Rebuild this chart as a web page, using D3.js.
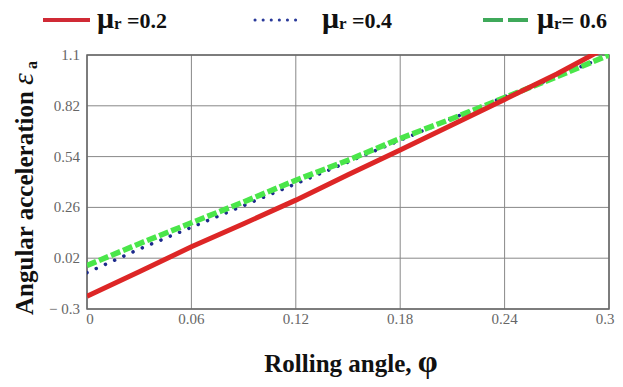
<!DOCTYPE html>
<html lang="en">
<head>
  <meta charset="UTF-8" />
  <title>Angular acceleration vs rolling angle</title>
  <script src="https://d3js.org/d3.v7.min.js"></script>
  <style>
    body { margin: 0; background: #fff; }
    svg { display: block; font-family: 'Liberation Serif', 'DejaVu Serif', serif; }
    .tick-label { font-size: 15px; fill: #666; }
    .axis-title { font-size: 25px; font-weight: bold; fill: #111; }
    .legend-text { font-weight: bold; fill: #111; }
  </style>
</head>
<body>
  <svg id="chart"></svg>
  <script>
    // values
    const phi = [0, 0.03, 0.06, 0.09, 0.12, 0.15, 0.18, 0.21, 0.24, 0.27, 0.3];
    const epsMu02 = [-0.23, -0.095, 0.043, 0.17, 0.30, 0.44, 0.577, 0.715, 0.855, 0.995, 1.15];
    const epsMu04 = [-0.10, 0.03, 0.15, 0.27, 0.39, 0.51, 0.63, 0.75, 0.87, 0.98, 1.10];
    const epsMu06 = [-0.06, 0.06, 0.175, 0.29, 0.41, 0.52, 0.64, 0.75, 0.865, 0.98, 1.10];
    const xTicks = [0, 0.06, 0.12, 0.18, 0.24, 0.3];
    const xTickLabels = ["0", "0.06", "0.12", "0.18", "0.24", "0.3"];
    const yTicks = [-0.3, -0.02, 0.26, 0.54, 0.82, 1.1];
    const yTickLabels = ["\u2212 0.3", "0.02", "0.26", "0.54", "0.82", "1.1"];
    const legendLabels = [" =0.2", " =0.4", "= 0.6"];

    const width = 623, height = 387;
    const plotLeft = 87, plotRight = 609, plotTop = 55, plotBottom = 309;

    const svg = d3.select('#chart').attr('width', width).attr('height', height);

    const x = d3.scaleLinear().domain([0, 0.3]).range([plotLeft, plotRight]);
    const y = d3.scaleLinear().domain([-0.3, 1.1]).range([plotBottom, plotTop]);

    // grid
    const grid = svg.append('g');
    grid.selectAll('line.v').data(xTicks).join('line')
      .attr('class', 'v')
      .attr('x1', d => x(d)).attr('x2', d => x(d))
      .attr('y1', plotTop).attr('y2', plotBottom)
      .attr('stroke', '#888').attr('stroke-width', 1);
    grid.selectAll('line.h').data(yTicks).join('line')
      .attr('class', 'h')
      .attr('x1', plotLeft).attr('x2', plotRight)
      .attr('y1', d => y(d)).attr('y2', d => y(d))
      .attr('stroke', '#888').attr('stroke-width', 1);
    svg.append('rect')
      .attr('x', plotLeft).attr('y', plotTop)
      .attr('width', plotRight - plotLeft).attr('height', plotBottom - plotTop)
      .attr('fill', 'none').attr('stroke', '#666').attr('stroke-width', 1.5);

    // tick labels
    svg.append('g').selectAll('text').data(xTicks).join('text')
      .attr('class', 'tick-label')
      .attr('x', (d, i) => x(d) + (i === 0 ? 3 : i === xTicks.length - 1 ? -4 : 0))
      .attr('y', 324)
      .attr('text-anchor', 'middle')
      .text((d, i) => xTickLabels[i]);
    svg.append('g').selectAll('text').data(yTicks).join('text')
      .attr('class', 'tick-label')
      .attr('x', 80)
      .attr('y', d => y(d) + 5)
      .attr('text-anchor', 'end')
      .text((d, i) => yTickLabels[i]);

    // curves
    svg.append('clipPath').attr('id', 'plot-clip')
      .append('rect').attr('x', plotLeft).attr('y', plotTop - 1)
      .attr('width', plotRight - plotLeft).attr('height', plotBottom - plotTop + 1);
    const line = d3.line().x((d, i) => x(phi[i])).y(d => y(d));
    const plot = svg.append('g').attr('clip-path', 'url(#plot-clip)');

    const series = [
      { values: epsMu04, color: '#1c2a8c', width: 3.5, dash: '0.1 10', cap: 'round' },
      { values: epsMu06, color: '#4ae64a', width: 5.5, dash: '10 3', cap: 'butt' },
      { values: epsMu02, color: '#dd2626', width: 5, dash: null, cap: 'butt' }
    ];
    series.forEach(s => {
      plot.append('path')
        .attr('d', line(s.values))
        .attr('fill', 'none')
        .attr('stroke', s.color)
        .attr('stroke-width', s.width)
        .attr('stroke-linecap', s.cap)
        .attr('stroke-dasharray', s.dash);
    });

    // legend
    const legend = [
      { x: 43, tx: 97, color: '#d02a35', dash: null, width: 4, cap: 'butt', label: legendLabels[0] },
      { x: 255, tx: 322, color: '#2a3a9a', dash: '0.1 8', width: 3, cap: 'round', label: legendLabels[1] },
      { x: 483, tx: 537, color: '#3fa95a', dash: '20 5', width: 4, cap: 'butt', label: legendLabels[2] }
    ];
    legend.forEach(l => {
      svg.append('line')
        .attr('x1', l.x).attr('x2', l.x + 47)
        .attr('y1', 20).attr('y2', 20)
        .attr('stroke', l.color).attr('stroke-width', l.width)
        .attr('stroke-linecap', l.cap)
        .attr('stroke-dasharray', l.dash);
      const t = svg.append('text').attr('class', 'legend-text')
        .attr('x', l.tx).attr('y', 28);
      t.append('tspan').attr('font-size', 30).text('\u03bc');
      t.append('tspan').attr('font-size', 17).attr('dy', 1).text('r');
      t.append('tspan').attr('font-size', 22).attr('dy', -1).text(l.label);
    });

    // axis titles
    const xt = svg.append('text').attr('class', 'axis-title')
      .attr('x', 351).attr('y', 372).attr('text-anchor', 'middle');
    xt.append('tspan').text('Rolling angle, ');
    xt.append('tspan').attr('font-size', 32).text('\u03c6');

    const yt = svg.append('text').attr('class', 'axis-title')
      .attr('transform', 'translate(33,188) rotate(-90)')
      .attr('text-anchor', 'middle');
    yt.append('tspan').text('Angular acceleration ');
    yt.append('tspan').attr('font-size', 30).attr('font-style', 'italic').attr('font-weight', 'normal').text('\u03b5');
    yt.append('tspan').attr('font-size', 16).attr('dy', 4).text(' a');
  </script>
</body>
</html>
